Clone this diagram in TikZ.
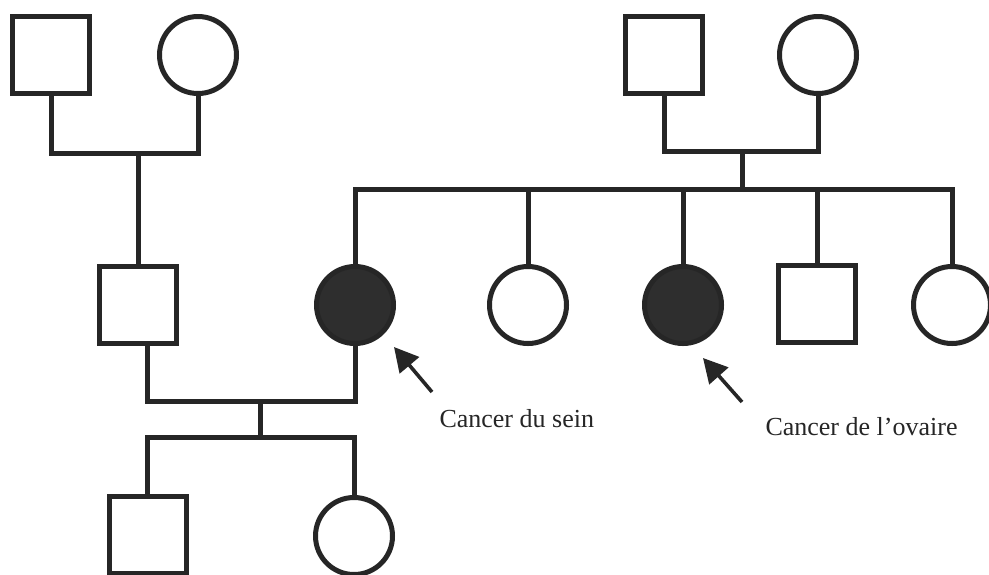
\documentclass[tikz,border=0pt]{standalone}
\usepackage{fontspec}
\setmainfont{Liberation Serif}
\usetikzlibrary{arrows.meta}

\begin{document}
\begin{tikzpicture}[x=0.5pt,y=-0.5pt,line width=2.5pt,
    male/.style={draw=black!85,rectangle,minimum size=38.5pt,inner sep=0pt},
    female/.style={draw=black!85,circle,minimum size=38.5pt,inner sep=0pt},
    sick/.style={fill=black!82},
    pointer/.style={draw=black!85,line width=1.8pt,-{Triangle[length=12pt,width=12.5pt]}}]
  \clip (0,0) rectangle (989,574);
  \fill[white] (0,0) rectangle (989,574);

  % grands-parents
  \node[male] (gp1) at (51,55) {};
  \node[female] (gm1) at (198,55) {};
  \node[male] (gp2) at (664,55) {};
  \node[female] (gm2) at (818,55) {};

  % parents et fratrie
  \node[male] (pere) at (138,305) {};
  \node[female,sick] (mere) at (355,305) {};
  \node[female] (s1) at (528,305) {};
  \node[female,sick] (s2) at (683,305) {};
  \node[male] (s3) at (817,304) {};
  \node[female] (s4) at (952,305) {};

  % enfants
  \node[male] (k1) at (147.5,535) {};
  \node[female] (k2) at (354,536) {};

  \coordinate (u1) at (138,153);
  \coordinate (u2) at (742,151);
  \coordinate (sib) at (742,189);
  \coordinate (u3) at (260,401);
  \coordinate (sib2) at (260,437);

  \begin{scope}[draw=black!85]
    \draw (gp1.south) |- (u1) -| (gm1.south);
    \draw (u1) -- (pere.north);
    \draw (gp2.south) |- (u2) -| (gm2.south);
    \draw (u2) -- (sib);
    \draw (mere.north) |- (sib) -| (s4.north);
    \foreach \n in {s1,s2,s3}
      \draw (\n.north) -- (\n.north |- sib);
    \draw ([xshift=4.5pt]pere.south) |- (u3) -| (mere.south);
    \draw (u3) -- (sib2);
    \draw (k1.north) |- (sib2) -| (k2.north);
  \end{scope}

  % cas de cancer
  \coordinate (a1) at (432,392);
  \coordinate (h1) at (394,347);
  \coordinate (a2) at (742,402);
  \coordinate (h2) at (703,358);
  \draw[pointer] (a1) -- (h1);
  \draw[pointer] (a2) -- (h2);
  \node[anchor=base west,inner sep=0pt,font=\fontsize{13}{15}\selectfont,text=black!85] (t1) at (437,427) {Cancer du sein};
  \node[anchor=base west,inner sep=0pt,font=\fontsize{13}{15}\selectfont,text=black!85] (t2) at (763,435) {Cancer de l’ovaire};
\end{tikzpicture}
\end{document}
